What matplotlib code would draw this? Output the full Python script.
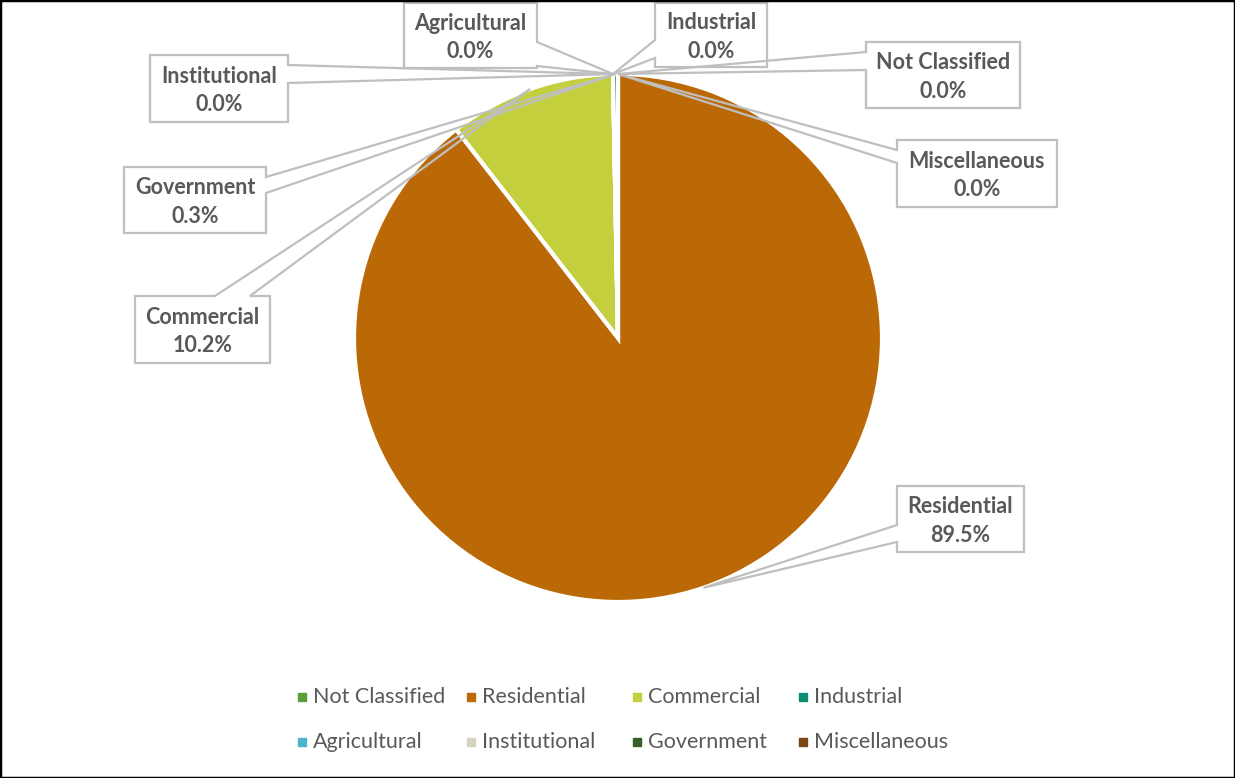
import matplotlib.pyplot as plt
from matplotlib.patches import Polygon, Rectangle
import numpy as np

categories = ['Not Classified', 'Residential', 'Commercial', 'Industrial',
              'Agricultural', 'Institutional', 'Government', 'Miscellaneous']
shares = [0.0, 89.5, 10.2, 0.0, 0.0, 0.0, 0.3, 0.0]
colors = ['#5A9E3A', '#BA6906', '#C3CF3C', '#0B8F73',
          '#4BB3CB', '#D8D2C0', '#356127', '#7A4511']

# callout boxes in pixels: (x0, y0, x1, y1), side of the pointer, pointer base
callouts = {
    'Not Classified': ((866, 42, 1020, 108), 'left', (52, 70)),
    'Residential': ((897, 486, 1024, 552), 'left', (525, 542)),
    'Commercial': ((135, 296, 270, 363), 'top', (215, 250)),
    'Industrial': ((655, 3, 767, 67), 'left', (40, 58)),
    'Agricultural': ((404, 3, 537, 68), 'right', (42, 66)),
    'Institutional': ((150, 55, 288, 122), 'right', (65, 83)),
    'Government': ((124, 167, 266, 233), 'right', (177, 193)),
    'Miscellaneous': ((897, 140, 1057, 207), 'left', (150, 163)),
}

cx, cy, R = 618, 338, 264
txt = '#595959'
edge = '#BFBFBF'

fig = plt.figure(figsize=(12.35, 7.78), dpi=100)
ax = fig.add_axes([0, 0, 1, 1])

ax.pie(shares, colors=colors, center=(cx, cy), radius=R, startangle=270,
       counterclock=True, wedgeprops=dict(edgecolor='white', linewidth=3))
ax.set_xlim(0, 1235)
ax.set_ylim(778, 0)
ax.set_aspect('auto')
ax.axis('off')

total = sum(shares)
cum = np.cumsum([0] + shares[:-1])
for name, v, c0 in zip(categories, shares, cum):
    theta = np.radians(360 * (c0 + v / 2) / total)
    tip = (cx + R * np.sin(theta), cy - R * np.cos(theta))
    (x0, y0, x1, y1), side, (b0, b1) = callouts[name]
    if side == 'left':
        pts = [(x0, y0), (x1, y0), (x1, y1), (x0, y1), (x0, b1), tip, (x0, b0)]
    elif side == 'right':
        pts = [(x0, y0), (x1, y0), (x1, b0), tip, (x1, b1), (x1, y1), (x0, y1)]
    else:
        pts = [(x0, y0), (b0, y0), tip, (b1, y0), (x1, y0), (x1, y1), (x0, y1)]
    ax.add_patch(Rectangle((x0, y0), x1 - x0, y1 - y0, facecolor='white',
                           edgecolor='none', zorder=3))
    ax.add_patch(Polygon(pts, closed=True, fill=False, edgecolor=edge,
                         linewidth=1.6, zorder=4))
    mx, my = (x0 + x1) / 2, (y0 + y1) / 2
    ax.text(mx, my - 12.5, name, ha='center', va='center', fontsize=15.5,
            fontweight='bold', color=txt, family='Lato', zorder=5)
    ax.text(mx, my + 16, f'{v:.1f}%', ha='center', va='center', fontsize=15.5,
            fontweight='bold', color=txt, family='Lato', zorder=5)

# legend, two rows of four
col_x = [302, 471, 637, 803]
row_y = [697, 742]
for i, (name, col) in enumerate(zip(categories, colors)):
    x = col_x[i % 4]
    y = row_y[i // 4]
    ax.plot(x, y, marker='s', markersize=6, color=col, linestyle='none')
    ax.text(x + 11, y, name, ha='left', va='center', fontsize=15.5,
            color=txt, family='Lato')

fig.add_artist(Rectangle((0, 0), 1, 1, transform=fig.transFigure, fill=False,
                         edgecolor='black', linewidth=2.5))

fig.savefig('out.png', dpi=100, facecolor='white')
